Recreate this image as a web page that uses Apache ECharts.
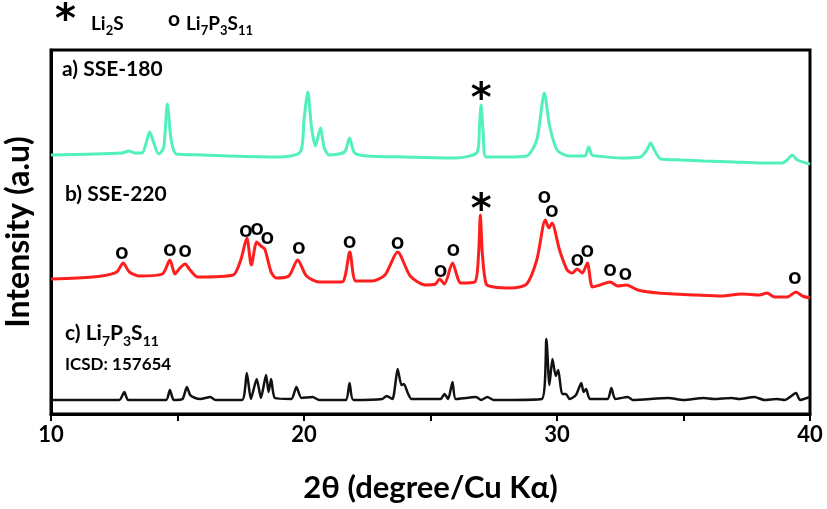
<!DOCTYPE html>
<html><head><meta charset="utf-8">
<script src="https://cdn.jsdelivr.net/npm/echarts@6/dist/echarts.min.js"></script>
<style>html,body{margin:0;padding:0;background:#fff}#c{width:827px;height:509px}</style>
</head><body><div id="c"></div>
<script>
// a) SSE-180
const aAngles = [10.0,12.8,13.1,13.3,13.6,13.75,13.9,14.05,14.25,14.45,14.6,14.75,14.95,16,17,19,19.85,20.0,20.15,20.3,20.45,20.65,20.8,21.0,21.6,21.8,22.0,22.5,24,26,26.85,26.94,27.0,27.08,27.2,28,28.8,29.2,29.5,29.7,30.0,30.5,31.1,31.25,31.38,31.6,32.5,33.3,33.55,33.7,33.85,34.1,34.9,35.8,37,38,38.9,39.1,39.3,39.5,40];
const aIntensity = [259,261,263,261,261,270,282,272,260,266,310,274,260,259,258,257,262,294,322,286,268,286,266,259,262,276,261,258,257,256,262,290,309,282,257,257,258,274,321,289,264,258,258,267,259,258,256,257,264,271,264,255,254,253,252,251,251,254,259,254,250];
// b) SSE-220
const bAngles = [10.0,11,12,12.6,12.85,13.1,13.5,14.4,14.7,14.9,15.1,15.3,15.5,15.8,17.2,17.5,17.74,17.92,18.13,18.3,18.45,18.7,18.9,19.4,19.75,20.1,20.6,21.5,21.81,22.05,22.7,23.2,23.7,24.2,24.8,25.2,25.36,25.55,25.87,26.2,26.75,26.9,26.97,27.05,27.2,27.5,28.2,28.8,29.2,29.54,29.68,29.8,30.1,30.4,30.6,30.8,31.0,31.2,31.4,31.7,32.1,32.4,32.75,33.2,34,35.5,36.5,37.3,38.0,38.3,38.6,39.1,39.45,39.7,40];
const bIntensity = [135,136,138,142,151,142,138,140,154,140,146,150,144,137,139,154,176,149,172,168,165,142,136,138,154,138,132,132,162,133,133,139,162,138,129,130,135,130,151,131,132,160,199,160,130,127,126,130,154,194,186,191,164,144,141,145,141,151,127,129,132,128,129,124,121,119,118,120,119,121,117,117,122,118,116];
// c) Li7P3S11 (ICSD: 157654)
const cAngles = [10.0,12.7,12.9,13.05,14.55,14.7,14.85,15.2,15.37,15.5,15.7,15.9,16.3,16.5,17.55,17.74,17.9,18.13,18.3,18.5,18.6,18.7,18.85,19.5,19.7,19.9,20.34,20.6,21.65,21.8,21.95,23.1,23.26,23.5,23.7,23.85,23.95,24.1,24.25,25.4,25.55,25.7,25.87,26.0,26.8,27.0,27.25,27.5,29.4,29.58,29.7,29.82,29.95,30.05,30.2,30.35,30.5,30.75,30.96,31.05,31.15,31.3,32.0,32.15,32.3,32.8,33.0,34.4,35,35.8,36.2,36.9,37.2,37.8,38.2,38.7,39.0,39.45,39.6,40];
const cIntensity = [14,14,22,14,14,24,14,15,27,19,16,15,17,14,14,41,15,35,16,39,22,35,16,15,27,16,17,14,14,31,14,15,18,15,45,29,30,21,15,15,20,15,32,15,17,14,17,14,15,75,29,55,38,44,20,20,15,19,31,22,25,15,15,26,15,17,14,16,14,16,15,16,15,17,14,15,14,21,14,17];
// peak annotations
const oAngles = [12.8,14.7,15.3,17.7,18.15,18.55,19.8,21.8,23.7,25.4,25.9,29.5,29.8,30.8,31.2,32.1,32.7,39.4];
const oHeights = [162,165,164,184,186,177,167,173,172,144,165,218,204,155,164,145,141,137];
const starAngles = [27.0,27.0];
const starHeights = [322,211];
const xTicks = [10,20,30,40];

const pairs = (xs, ys) => xs.map((x, i) => [x, ys[i]]);
const chart = echarts.init(document.getElementById('c'));
const FONT = 'Lato';
const big = (size) => ({fontFamily: FONT, fontWeight: 'bold', fontSize: size, color: '#000', lineHeight: size + 8, verticalAlign: 'bottom'});
const sub = (size) => ({fontFamily: FONT, fontWeight: 'bold', fontSize: size, color: '#000', lineHeight: size + 4, verticalAlign: 'bottom', padding: [0, 0, -4, 0]});
const label = (text, left, top, b, s) => ({text, left, top, padding: 0, textStyle: {rich: {b: big(b), s: sub(s)}}});
chart.setOption({
  animation: false,
  backgroundColor: '#fff',
  title: [
    label('{b|Li}{s|2}{b|S}', 91, 6, 19, 13),
    label('{b|Li}{s|7}{b|P}{s|3}{b|S}{s|11}', 186, 6, 19, 13),
    label('{b|c) Li}{s|7}{b|P}{s|3}{b|S}{s|11}', 65, 315, 21, 14)
  ],
  grid: {left: 51, right: 17, top: 50, bottom: 95, show: true, borderColor: '#000', borderWidth: 3, outerBoundsMode: 'none', containLabel: false},
  xAxis: {
    type: 'value', min: 10, max: 40, interval: 5,
    axisLine: {lineStyle: {color: '#000', width: 3}},
    axisTick: {show: true, length: 7, lineStyle: {color: '#000', width: 2}},
    axisLabel: {color: '#000', fontFamily: FONT, fontWeight: 'bold', fontSize: 22, margin: 10,
      formatter: v => xTicks.includes(v) ? String(v) : ''},
    splitLine: {show: false},
    name: '2θ (degree/Cu Kα)', nameLocation: 'middle', nameGap: 58,
    nameTextStyle: {color: '#000', fontFamily: FONT, fontWeight: 'bold', fontSize: 31}
  },
  yAxis: {
    type: 'value', min: 0, max: 364,
    axisLine: {show: true, lineStyle: {color: '#000', width: 3}},
    axisTick: {show: false}, axisLabel: {show: false}, splitLine: {show: false},
    name: 'Intensity (a.u)', nameLocation: 'middle', nameGap: 16,
    nameTextStyle: {color: '#000', fontFamily: FONT, fontWeight: 'bold', fontSize: 32}
  },
  series: [
    {type: 'line', data: pairs(aAngles, aIntensity), symbol: 'none', smooth: 0.25, lineStyle: {color: '#52EFBF', width: 3}},
    {type: 'line', data: pairs(bAngles, bIntensity), symbol: 'none', smooth: 0.25, lineStyle: {color: '#FF1E1E', width: 3}},
    {type: 'line', data: pairs(cAngles, cIntensity), symbol: 'none', smooth: 0.2, lineStyle: {color: '#111', width: 2.5}},
    {type: 'scatter', data: pairs(oAngles, oHeights), symbolSize: 1, itemStyle: {opacity: 0},
      label: {show: true, position: 'inside', formatter: 'o', color: '#000', fontFamily: FONT, fontWeight: 'bold', fontSize: 23, opacity: 1}},
    {type: 'scatter', data: pairs(starAngles, starHeights), symbolSize: 1, itemStyle: {opacity: 0},
      label: {show: true, position: 'inside', formatter: '*', color: '#000', fontFamily: 'DejaVu Sans', fontWeight: 'bold', fontSize: 40, opacity: 1, offset: [0, 9]}}
  ],
  graphic: [
    {type: 'text', left: 55, top: 2, style: {text: '*', font: 'bold 40px "DejaVu Sans"', fill: '#000'}},
    {type: 'text', left: 168, top: 9, style: {text: 'o', font: 'bold 21px Lato', fill: '#000'}},
    {type: 'text', left: 62, top: 59, style: {text: 'a) SSE-180', font: 'bold 21px Lato', fill: '#000'}},
    {type: 'text', left: 65, top: 184, style: {text: 'b) SSE-220', font: 'bold 21px Lato', fill: '#000'}},
    {type: 'text', left: 65, top: 356, style: {text: 'ICSD: 157654', font: 'bold 17px Lato', fill: '#000'}}
  ]
});
</script></body></html>
